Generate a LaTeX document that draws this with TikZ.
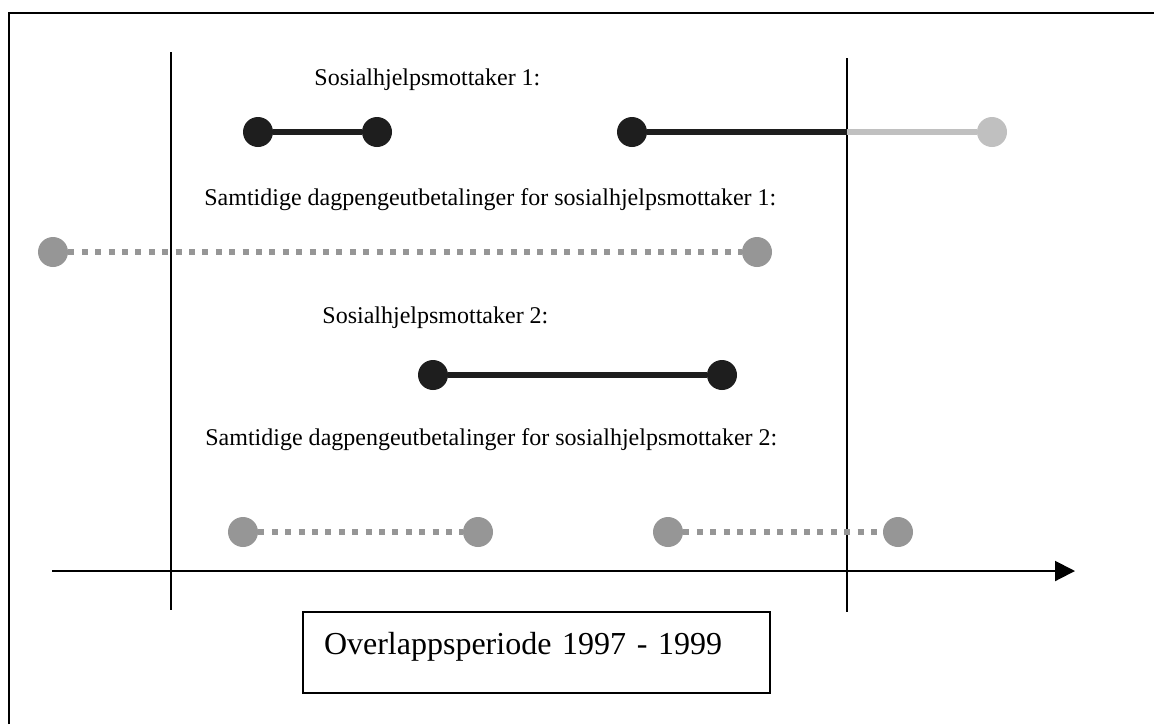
\documentclass[tikz,border=0pt]{standalone}
\usepackage{fontspec}
\setmainfont{Liberation Serif}
\usetikzlibrary{arrows.meta}
\definecolor{darkdot}{RGB}{30,30,30}
\definecolor{midgray}{RGB}{150,150,150}
\definecolor{palegray}{RGB}{192,192,192}

\begin{document}
\begin{tikzpicture}[x=0.5pt, y=-0.5pt,
    bigdot/.style={circle, fill=#1, inner sep=0pt, minimum size=15pt},
    seg/.style={line width=3.2pt, draw=#1},
    dotseg/.style={line width=3pt, draw=midgray, dash pattern=on 3pt off 3.7pt},
    lbl/.style={anchor=base west, inner sep=0pt, font=\fontsize{12}{14}\selectfont},
    periodbox/.style={draw, line width=1pt, anchor=north west, minimum width=233.5pt,
        minimum height=40.5pt, text width=212.5pt, align=left, inner xsep=10.5pt,
        inner ysep=0pt, text depth=9.4pt, font=\fontsize{16}{19}\selectfont}]
    \useasboundingbox (0,0) rectangle (1154,724);
    % outer frame (only top and left edges visible)
    \draw[line width=1.2pt] (9,724) -- (9,13) -- (1154,13);

    % period borders and time axis
    \coordinate (start top) at (171,52);
    \coordinate (start bot) at (171,610);
    \coordinate (end top) at (847,58);
    \coordinate (end bot) at (847,612);
    \draw[line width=0.9pt] (start top) -- (start bot);
    \draw[line width=0.9pt] (end top) -- (end bot);
    \coordinate (axis left) at (52,571);
    \coordinate (axis right) at (1075,571);
    \draw[line width=1pt, -{Triangle[length=10pt,width=10pt]}] (axis left) -- (axis right);

    % sosialhjelpsmottaker 1
    \node[lbl] (sh1) at (314,85) {Sosialhjelpsmottaker 1:};
    \node[bigdot=darkdot] (a1) at (258,132) {};
    \node[bigdot=darkdot] (a2) at (377,132) {};
    \node[bigdot=darkdot] (a3) at (632,132) {};
    \node[bigdot=palegray] (a4) at (992,132) {};
    \coordinate (a cut) at (847,132);
    \draw[seg=darkdot] (a1) -- (a2);
    \draw[seg=palegray] (a cut) -- (a4);
    \draw[seg=darkdot] (a3) -- (a cut);

    \node[lbl] (dp1) at (204,205) {Samtidige dagpengeutbetalinger for sosialhjelpsmottaker 1:};
    \node[bigdot=midgray] (b1) at (53,252) {};
    \node[bigdot=midgray] (b2) at (757,252) {};
    \draw[dotseg] (b1) -- (b2);

    % sosialhjelpsmottaker 2
    \node[lbl] (sh2) at (322,323) {Sosialhjelpsmottaker 2:};
    \node[bigdot=darkdot] (c1) at (433,375) {};
    \node[bigdot=darkdot] (c2) at (722,375) {};
    \draw[seg=darkdot] (c1) -- (c2);

    \node[lbl] (dp2) at (205,445) {Samtidige dagpengeutbetalinger for sosialhjelpsmottaker 2:};
    \node[bigdot=midgray] (d1) at (243,532) {};
    \node[bigdot=midgray] (d2) at (478,532) {};
    \node[bigdot=midgray] (d3) at (668,532) {};
    \node[bigdot=midgray] (d4) at (898,532) {};
    \draw[dotseg] (d1) -- (d2);
    \draw[dotseg] (d3) -- (d4);

    \node[periodbox] (period) at (302,611) {Overlappsperiode 1997 - 1999};
\end{tikzpicture}
\end{document}
